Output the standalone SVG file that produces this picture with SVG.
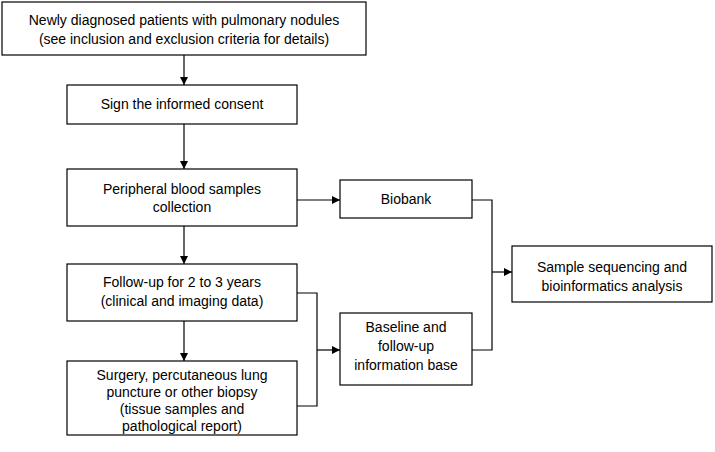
<svg xmlns="http://www.w3.org/2000/svg" width="715" height="452" viewBox="0 0 715 452">
<style>
rect{fill:#fff;stroke:#000;stroke-width:1.2}
text{font-family:"Liberation Sans",Arial,sans-serif;font-size:14px;fill:#000;text-anchor:middle}
.c{fill:none;stroke:#000;stroke-width:1.2}
</style>
<defs><marker id="a" viewBox="0 0 10 10" refX="10" refY="5" markerWidth="8" markerHeight="8" orient="auto" markerUnits="userSpaceOnUse"><path d="M0,0L10,5L0,10z" fill="#000"/></marker></defs>
<rect width="715" height="452" style="stroke:none"/>
<g id="connectors">
<path class="c" d="M184,55V85" marker-end="url(#a)"/>
<path class="c" d="M184,124V169" marker-end="url(#a)"/>
<path class="c" d="M184,226V264" marker-end="url(#a)"/>
<path class="c" d="M184,321V361" marker-end="url(#a)"/>
<path class="c" d="M297,200H340" marker-end="url(#a)"/>
<path class="c" d="M297,293H317V406H297"/>
<path class="c" d="M317,350H340" marker-end="url(#a)"/>
<path class="c" d="M472,200H492V350H472"/>
<path class="c" d="M492,272H512" marker-end="url(#a)"/>
</g>
<g id="n1"><rect x="2" y="2" width="364" height="53"/><text x="184" y="25">Newly diagnosed patients with pulmonary nodules</text><text x="184" y="44">(see inclusion and exclusion criteria for details)</text></g>
<g id="n2"><rect x="67" y="85" width="230" height="39"/><text x="182" y="109">Sign the informed consent</text></g>
<g id="n3"><rect x="67" y="169" width="230" height="57"/><text x="182" y="194">Peripheral blood samples</text><text x="182" y="212">collection</text></g>
<g id="n4"><rect x="67" y="264" width="230" height="57"/><text x="182" y="287">Follow-up for 2 to 3 years</text><text x="182" y="306">(clinical and imaging data)</text></g>
<g id="n5"><rect x="67" y="361" width="230" height="74"/><text x="182" y="380">Surgery, percutaneous lung</text><text x="182" y="397">puncture or other biopsy</text><text x="182" y="414">(tissue samples and</text><text x="182" y="431">pathological report)</text></g>
<g id="n6"><rect x="340" y="180" width="132" height="38"/><text x="406" y="204">Biobank</text></g>
<g id="n7"><rect x="340" y="313" width="132" height="72"/><text x="406" y="332">Baseline and</text><text x="406" y="351">follow-up</text><text x="406" y="370">information base</text></g>
<g id="n8"><rect x="512" y="246" width="200" height="56"/><text x="612" y="272">Sample sequencing and</text><text x="612" y="291">bioinformatics analysis</text></g>
</svg>
